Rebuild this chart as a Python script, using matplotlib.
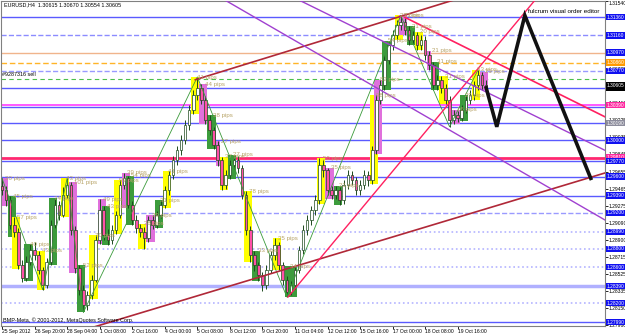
import matplotlib
matplotlib.use("Agg")
import matplotlib.pyplot as plt
import matplotlib.transforms as mtransforms
from matplotlib.patches import Rectangle

plt.rcParams["font.family"] = ["Liberation Sans", "DejaVu Sans"]

# EURUSD H4 bars
opens = [1.2950, 1.2945, 1.2934, 1.2907, 1.2899, 1.2862, 1.2848, 1.2866, 1.2879, 1.2873,
         1.2857, 1.2840, 1.2866, 1.2907, 1.2929, 1.2918, 1.2940, 1.2951, 1.2901, 1.2859,
         1.2835, 1.2818, 1.2829, 1.2846, 1.2890, 1.2923, 1.2895, 1.2890, 1.2901, 1.2918,
         1.2951, 1.2958, 1.2929, 1.2912, 1.2903, 1.2899, 1.2892, 1.2912, 1.2907, 1.2918,
         1.2929, 1.2945, 1.2962, 1.2978, 1.2989, 1.3000, 1.3017, 1.3034, 1.3050, 1.3058,
         1.3045, 1.3023, 1.3011, 1.2995, 1.2978, 1.2951, 1.2962, 1.2973, 1.2978, 1.2969,
         1.2940, 1.2901, 1.2873, 1.2862, 1.2851, 1.2840, 1.2857, 1.2873, 1.2884, 1.2862,
         1.2846, 1.2833, 1.2840, 1.2857, 1.2879, 1.2901, 1.2912, 1.2923, 1.2934, 1.2973,
         1.2967, 1.2945, 1.2940, 1.2945, 1.2934, 1.2951, 1.2962, 1.2956, 1.2945, 1.2951,
         1.2962, 1.2956, 1.2989, 1.3045, 1.3061, 1.3089, 1.3105, 1.3116, 1.3128, 1.3131,
         1.3122, 1.3111, 1.3116, 1.3105, 1.3111, 1.3094, 1.3083, 1.3061, 1.3067, 1.3058,
         1.3045, 1.3023, 1.3028, 1.3025, 1.3034, 1.3045, 1.3050, 1.3061, 1.3072, 1.30615]
highs = [1.2958, 1.2950, 1.2938, 1.2915, 1.2903, 1.2868, 1.2872, 1.2885, 1.2888, 1.2878,
         1.2860, 1.2870, 1.2912, 1.2936, 1.2933, 1.2948, 1.2958, 1.2954, 1.2905, 1.2862,
         1.2840, 1.2834, 1.2851, 1.2895, 1.2935, 1.2927, 1.2902, 1.2906, 1.2922, 1.2956,
         1.2964, 1.2961, 1.2933, 1.2917, 1.2908, 1.2904, 1.2916, 1.2917, 1.2922, 1.2934,
         1.2950, 1.2966, 1.2983, 1.2994, 1.3006, 1.3022, 1.3039, 1.3056, 1.3070, 1.3062,
         1.3049, 1.3028, 1.3015, 1.2999, 1.2982, 1.2967, 1.2978, 1.2984, 1.2983, 1.2973,
         1.2944, 1.2905, 1.2878, 1.2866, 1.2855, 1.2862, 1.2878, 1.2892, 1.2888, 1.2866,
         1.2850, 1.2845, 1.2861, 1.2883, 1.2906, 1.2917, 1.2928, 1.2940, 1.2980, 1.2978,
         1.2970, 1.2950, 1.2950, 1.2949, 1.2956, 1.2967, 1.2966, 1.2960, 1.2956, 1.2967,
         1.2966, 1.2994, 1.3050, 1.3067, 1.3094, 1.3110, 1.3122, 1.3133, 1.3138, 1.3135,
         1.3126, 1.3121, 1.3120, 1.3116, 1.3115, 1.3099, 1.3087, 1.3072, 1.3071, 1.3062,
         1.3049, 1.3034, 1.3033, 1.3039, 1.3050, 1.3056, 1.3066, 1.3078, 1.3076, 1.30670]
lows = [1.2940, 1.2928, 1.2902, 1.2893, 1.2858, 1.2843, 1.2845, 1.2862, 1.2868, 1.2852,
        1.2835, 1.2837, 1.2862, 1.2903, 1.2912, 1.2915, 1.2936, 1.2896, 1.2853, 1.2829,
        1.2810, 1.2813, 1.2825, 1.2843, 1.2886, 1.2890, 1.2884, 1.2886, 1.2897, 1.2914,
        1.2946, 1.2925, 1.2907, 1.2898, 1.2893, 1.2880, 1.2888, 1.2902, 1.2903, 1.2914,
        1.2925, 1.2940, 1.2957, 1.2973, 1.2984, 1.2996, 1.3012, 1.3029, 1.3045, 1.3040,
        1.3018, 1.3006, 1.2990, 1.2972, 1.2945, 1.2946, 1.2957, 1.2968, 1.2964, 1.2935,
        1.2896, 1.2866, 1.2856, 1.2845, 1.2834, 1.2836, 1.2853, 1.2868, 1.2857, 1.2840,
        1.2827, 1.2829, 1.2836, 1.2853, 1.2875, 1.2896, 1.2907, 1.2918, 1.2930, 1.2960,
        1.2940, 1.2935, 1.2935, 1.2929, 1.2930, 1.2946, 1.2951, 1.2940, 1.2940, 1.2946,
        1.2950, 1.2952, 1.2985, 1.3040, 1.3056, 1.3084, 1.3100, 1.3111, 1.3122, 1.3116,
        1.3105, 1.3106, 1.3100, 1.3100, 1.3089, 1.3078, 1.3056, 1.3056, 1.3052, 1.3040,
        1.3015, 1.3018, 1.3020, 1.3021, 1.3030, 1.3040, 1.3045, 1.3056, 1.3056, 1.30554]
closes = [1.2945, 1.2934, 1.2907, 1.2899, 1.2862, 1.2848, 1.2866, 1.2879, 1.2873, 1.2857,
          1.2840, 1.2866, 1.2907, 1.2929, 1.2918, 1.2940, 1.2951, 1.2901, 1.2859, 1.2835,
          1.2818, 1.2829, 1.2846, 1.2890, 1.2923, 1.2895, 1.2890, 1.2901, 1.2918, 1.2951,
          1.2958, 1.2929, 1.2912, 1.2903, 1.2899, 1.2892, 1.2912, 1.2907, 1.2918, 1.2929,
          1.2945, 1.2962, 1.2978, 1.2989, 1.3000, 1.3017, 1.3034, 1.3050, 1.3058, 1.3045,
          1.3023, 1.3011, 1.2995, 1.2978, 1.2951, 1.2962, 1.2973, 1.2978, 1.2969, 1.2940,
          1.2901, 1.2873, 1.2862, 1.2851, 1.2840, 1.2857, 1.2873, 1.2884, 1.2862, 1.2846,
          1.2833, 1.2840, 1.2857, 1.2879, 1.2901, 1.2912, 1.2923, 1.2934, 1.2973, 1.2967,
          1.2945, 1.2940, 1.2945, 1.2934, 1.2951, 1.2962, 1.2956, 1.2945, 1.2951, 1.2962,
          1.2956, 1.2989, 1.3045, 1.3061, 1.3089, 1.3105, 1.3116, 1.3128, 1.3131, 1.3122,
          1.3111, 1.3116, 1.3105, 1.3111, 1.3094, 1.3083, 1.3061, 1.3067, 1.3058, 1.3045,
          1.3023, 1.3028, 1.3025, 1.3034, 1.3045, 1.3050, 1.3061, 1.3072, 1.3061, 1.30605]

date_ticks = [0, 8, 16, 24, 32, 40, 48, 56, 64, 72, 80, 88, 96, 104, 112]
date_labels = ["25 Sep 2012", "26 Sep 20:00", "28 Sep 04:00", "1 Oct 08:00", "2 Oct 16:00",
               "4 Oct 00:00", "5 Oct 08:00", "8 Oct 12:00", "9 Oct 20:00", "11 Oct 04:00",
               "12 Oct 12:00", "15 Oct 16:00", "17 Oct 00:00", "18 Oct 08:00", "19 Oct 16:00"]
price_ticks = [1.31540, 1.31350, 1.31165, 1.30975, 1.30785, 1.30600, 1.30410, 1.30225,
               1.30035, 1.29845, 1.29655, 1.29465, 1.29275, 1.29090, 1.28900, 1.28715,
               1.28525, 1.28335, 1.28150, 1.27960]

# highlighted swing boxes: first bar, last bar, colour
box_start = [0, 2, 3, 6, 9, 12, 15, 17, 19, 22, 24, 25, 28, 30, 31, 34, 36, 38, 40,
             47, 49, 51, 53, 54, 56, 60, 62, 67, 70, 78, 80, 82, 91, 92, 94, 97, 98, 100,
             102, 105, 106, 108, 111, 113, 116, 118]
box_end = [1, 3, 4, 7, 10, 13, 16, 18, 20, 23, 25, 26, 29, 31, 32, 35, 37, 39, 41,
           48, 50, 52, 53, 55, 57, 61, 63, 68, 72, 79, 81, 83, 92, 93, 95, 98, 99, 101,
           103, 105, 107, 109, 112, 114, 117, 119]
box_kind = ["p", "g", "y", "g", "y", "g", "y", "p", "g", "y", "p", "g", "y", "p", "g", "y", "p", "g", "y",
            "y", "p", "g", "p", "y", "g", "y", "g", "y", "g", "y", "p", "g", "y", "p", "g", "y", "p", "g",
            "y", "p", "g", "y", "p", "g", "y", "p"]

# horizontal levels: price, colour, style, width, tag colour on the price scale
level_price = [1.3136, 1.3116, 1.3097, 1.3086, 1.3077, 1.3068, 1.3058, 1.3039, 1.3037,
               1.3019, 1.3000, 1.2981, 1.2977, 1.2960, 1.2939, 1.2920, 1.2899, 1.2880,
               1.2860, 1.2839, 1.2820, 1.2799]
level_color = ["#5a5aff", "#8c8cff", "#f0b48c", "#ffb428", "#9a9aff", "#4cc04c", "#5a5aff",
               "#ff3cff", "#5a5aff", "#5a5aff", "#5a5aff", "#ff2870", "#5a5aff", "#5a5aff",
               "#5a5aff", "#9a9aff", "#b4b4ff", "#b4b4ff", "#b4b4ff", "#b0b0ff", "#b4b4ff", "#5a5aff"]
level_style = ["-", "--", "-", (0, (4, 2)), "--", (0, (4, 3)), "-", "-", "-", "-", "-", "-",
               "-", "-", "-", "--", ":", ":", ":", "-", ":", "-"]
level_width = [1, 1, 1, 1, 1, 0.8, 1, 1.2, 1, 1, 1, 2, 1, 1, 1, 1, 1.2, 1.2, 1.2, 2.5, 1.2, 1]
level_tag = ["#1010f0", "#1010f0", "#1010f0", "#ff9a00", "#1010f0", None, "#000000",
             "#ff28a0", None, "#8c8c9c", "#1010f0", "#ff28a0", "#1010f0", "#1010f0",
             "#1010f0", "#1010f0", "#1010f0", "#1010f0", "#1010f0", "#1010f0", "#1010f0", "#1010f0"]

# trend lines: (bar, price) -> (bar, price), colour, width
trend_x0 = [47.5, 22.0, 70.3, 99.0, 73.0, 54.8]
trend_y0 = [1.3067, 1.2793, 1.2827, 1.3136, 1.3155, 1.3155]
trend_x1 = [116.0, 148.2, 131.0, 148.2, 148.2, 148.2]
trend_y1 = [1.3162, 1.2964, 1.3155, 1.3026, 1.2989, 1.2912]
trend_color = ["#b02838", "#b02838", "#ff2060", "#ff2060", "#a040d0", "#a040d0"]
trend_width = [1.2, 1.2, 1.0, 1.2, 1.0, 1.0]

zz_x = [0, 10, 16, 20, 48, 70, 98, 110, 117]
zz_y = [1.2958, 1.2835, 1.2958, 1.2810, 1.3070, 1.2827, 1.3138, 1.3015, 1.3078]

proj_x = [119, 121.6, 128.5, 144.7]
proj_y = [1.3058, 1.3015, 1.3138, 1.2958]

box_colors = {"y": "#ffff00", "g": "#3c9c3c", "p": "#e070dc"}

fig = plt.figure(figsize=(6.25, 3.35), dpi=100)
ax = fig.add_axes([1 / 625, 9 / 335, 604 / 625, 325 / 335])
ax.set_xlim(-0.25, 148.2)
ax.set_ylim(1.27949, 1.3154)

for p, c, ls, lw in zip(level_price, level_color, level_style, level_width):
    ax.axhline(p, color=c, ls=ls, lw=lw, zorder=1)

for s, e, k in zip(box_start, box_end, box_kind):
    top = max(highs[s:e + 1])
    bot = min(lows[s:e + 1])
    ax.add_patch(Rectangle((s - 0.5, bot), e - s + 1, top - bot, fc=box_colors[k], ec="none", zorder=2))
    ax.text(s + 0.8, top, "%d pips" % round((top - bot) * 10000), fontsize=4.4,
            color="#b8a468", va="center", ha="left", zorder=6)

for i in range(len(closes)):
    o, c = opens[i], closes[i]
    ax.vlines(i, lows[i], highs[i], color="#1e4a1e", lw=0.7, zorder=3)
    face = "#ffffff" if c >= o else "#ff50a8"
    ax.add_patch(Rectangle((i - 0.32, min(o, c)), 0.64, max(abs(c - o), 0.00004),
                           fc=face, ec="#1e4a1e", lw=0.5, zorder=4))

ax.plot(zz_x, zz_y, color="#3a9a3a", lw=0.6, zorder=5)
for x0, y0, x1, y1, c, w in zip(trend_x0, trend_y0, trend_x1, trend_y1, trend_color, trend_width):
    ax.plot([x0, x1], [y0, y1], color=c, lw=w, zorder=5)
ax.plot(proj_x, proj_y, color="#111111", lw=2.6, zorder=7, solid_joinstyle="miter")

# right side price tags
tr = mtransforms.blended_transform_factory(ax.transAxes, ax.transData)
for p, t in zip(level_price, level_tag):
    if t is None:
        continue
    ax.text(1.003, p, "%.5f" % p, transform=tr, fontsize=3.5, color="white", va="center",
            ha="left", clip_on=False, zorder=10,
            bbox=dict(fc=t, ec="none", pad=0.5))
ax.text(1.003, closes[-1], "%.5f" % closes[-1], transform=tr, fontsize=3.5, color="white",
        va="center", ha="left", clip_on=False, zorder=11, bbox=dict(fc="#000000", ec="none", pad=0.5))

ax.yaxis.tick_right()
ax.set_yticks(price_ticks)
ax.set_yticklabels(["%.5f" % v for v in price_ticks])
ax.set_xticks(date_ticks)
ax.set_xticklabels(date_labels)
ax.tick_params(axis="both", length=2, width=0.6, labelsize=3.6, pad=0.5, colors="#000000")
for lab in ax.get_xticklabels():
    lab.set_horizontalalignment("left")
ax.get_yticklabels()[0].set_verticalalignment("top")
for sp in ax.spines.values():
    sp.set_color("#808080")
    sp.set_linewidth(0.8)

ax.text(0.005, 0.995, "EURUSD,H4  1.30615 1.30670 1.30554 1.30605", transform=ax.transAxes,
        fontsize=3.9, va="top", ha="left", zorder=12)
ax.text(0.005, 1.3070, "#9287316 sell", fontsize=3.9, va="bottom", ha="left", zorder=12)
ax.text(0.99, 0.975, "fulcrum visual order editor", transform=ax.transAxes, fontsize=4.5,
        va="top", ha="right", zorder=12)
ax.text(0.004, 0.01, "BMP-Meta, \u00a9 2001-2012, MetaQuotes Software Corp.", transform=ax.transAxes,
        fontsize=3.9, va="bottom", ha="left", zorder=12)

fig.savefig("out.png", dpi=100, facecolor="white")
